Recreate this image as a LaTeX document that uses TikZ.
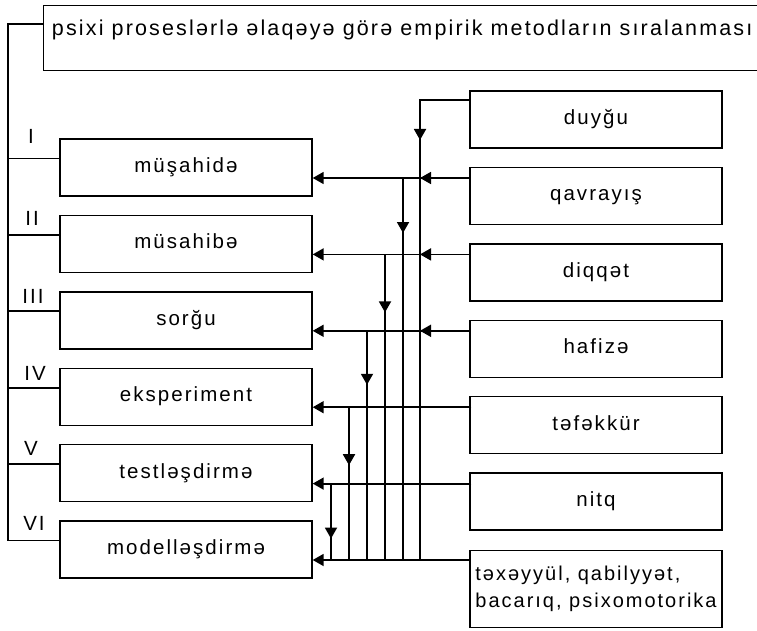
\documentclass[tikz,border=0pt]{standalone}
\usepackage{fontspec}
\setmainfont{Liberation Sans}[LetterSpace=10]
\usetikzlibrary{arrows.meta,positioning}

\tikzset{
  method/.style={draw, line width=1.4pt, minimum width=252pt, minimum height=57pt,
    inner sep=0pt, text height=14pt, text depth=4pt},
  process/.style={draw, line width=1.4pt, minimum width=252pt, minimum height=57pt,
    inner sep=0pt, text height=14pt, text depth=4pt},
  flow/.style={-{Triangle[length=11pt,width=12pt]}, line width=1.8pt},
  link/.style={line width=1.8pt},
  numeral/.style={anchor=base}
}

\begin{document}
\begin{tikzpicture}[x=1pt, y=1pt, node distance=76.4pt, font=\fontsize{20.5}{27}\selectfont]
    \useasboundingbox (0,0) rectangle (757,-631);

    \node[draw, line width=1.4pt, minimum width=717pt, minimum height=65pt, inner sep=0pt,
      text height=15pt, text depth=20pt, anchor=north west,
      font=\fontsize{21.5}{27}\selectfont] (title) at (43,-5)
      {psixi proseslərlə əlaqəyə görə empirik metodların sıralanması};

    % methods
    \node[method] (musahide) at (186,-167.5) {müşahidə};
    \node[method, below of=musahide] (musahibe) {müsahibə};
    \node[method, below of=musahibe] (sorgu) {sorğu};
    \node[method, below of=sorgu] (eksperiment) {eksperiment};
    \node[method, below of=eksperiment] (testles) {testləşdirmə};
    \node[method, below of=testles] (modelles) {modelləşdirmə};

    \node[numeral] (n1) at (31,-144) {I};
    \node[numeral] (n2) at (32,-225) {II};
    \node[numeral] (n3) at (33,-303) {III};
    \node[numeral] (n4) at (35,-380) {IV};
    \node[numeral] (n5) at (31,-455) {V};
    \node[numeral] (n6) at (34,-530) {VI};

    % processes
    \node[process] (duygu) at (596,-119.5) {duyğu};
    \node[process, below of=duygu] (qavrayis) {qavrayış};
    \node[process, below of=qavrayis] (diqqet) {diqqət};
    \node[process, below of=diqqet] (hafize) {hafizə};
    \node[process, below of=hafize] (tefekkur) {təfəkkür};
    \node[process, below of=tefekkur] (nitq) {nitq};
    \node[draw, line width=1.4pt, minimum width=252pt, minimum height=77pt, inner sep=0pt,
      align=left, below of=nitq, node distance=87.6pt,
      font=\fontsize{20}{27}\selectfont] (texeyyul)
      {təxəyyül, qabilyyət,\\bacarıq, psixomotorika};

    % left bus
    \coordinate (bus) at (8,0);
    \coordinate (s1) at ([yshift=9pt]musahide.west);
    \coordinate (s2) at ([yshift=9pt]musahibe.west);
    \coordinate (s3) at ([yshift=9pt]sorgu.west);
    \coordinate (s4) at ([yshift=9pt]eksperiment.west);
    \coordinate (s5) at ([yshift=9pt]testles.west);
    \coordinate (s6) at ([yshift=9pt]modelles.west);
    \draw[link] ([yshift=14.5pt]title.west) -| (bus |- s6) -- (s6);
    \draw[link] (bus |- s1) -- (s1);
    \draw[link] (bus |- s2) -- (s2);
    \draw[link] (bus |- s3) -- (s3);
    \draw[link] (bus |- s4) -- (s4);
    \draw[link] (bus |- s5) -- (s5);

    % connectors
    \coordinate (h1) at ([yshift=-10.5pt]musahide.east);
    \coordinate (h2) at ([yshift=-10.5pt]musahibe.east);
    \coordinate (h3) at ([yshift=-10.5pt]sorgu.east);
    \coordinate (h4) at ([yshift=-10.5pt]eksperiment.east);
    \coordinate (h5) at ([yshift=-10.5pt]testles.east);
    \coordinate (h6) at ([yshift=-10.5pt]modelles.east);
    \coordinate (d) at ([yshift=19.5pt]duygu.west);
    \coordinate (c1) at (420,0);
    \coordinate (c2) at (403,0);
    \coordinate (c3) at (385,0);
    \coordinate (c4) at (367,0);
    \coordinate (c5) at (349,0);
    \coordinate (c6) at (331,0);

    \draw[link] (d) -| (c1 |- h6);
    \draw[flow] (c1 |- d) -- ++(0,-40);

    \draw[flow] (qavrayis.west |- h1) -- (h1);
    \draw[flow] (qavrayis.west |- h1) -- (c1 |- h1);
    \draw[link] (c2 |- h1) -- (c2 |- h6);
    \draw[flow] (c2 |- h1) -- ++(0,-55);

    \draw[flow] (diqqet.west |- h2) -- (h2);
    \draw[flow] (diqqet.west |- h2) -- (c1 |- h2);
    \draw[link] (c3 |- h2) -- (c3 |- h6);
    \draw[flow] (c3 |- h2) -- ++(0,-58);

    \draw[flow] (hafize.west |- h3) -- (h3);
    \draw[flow] (hafize.west |- h3) -- (c1 |- h3);
    \draw[link] (c4 |- h3) -- (c4 |- h6);
    \draw[flow] (c4 |- h3) -- ++(0,-54);

    \draw[flow] ([xshift=2pt]tefekkur.west |- h4) -- (h4);
    \draw[link] (c5 |- h4) -- (c5 |- h6);
    \draw[flow] (c5 |- h4) -- ++(0,-58);

    \draw[flow] ([xshift=2pt]nitq.west |- h5) -- (h5);
    \draw[link] (c6 |- h5) -- (c6 |- h6);
    \draw[flow] (c6 |- h5) -- ++(0,-55);

    \draw[flow] (texeyyul.west |- h6) -- (h6);
\end{tikzpicture}
\end{document}
